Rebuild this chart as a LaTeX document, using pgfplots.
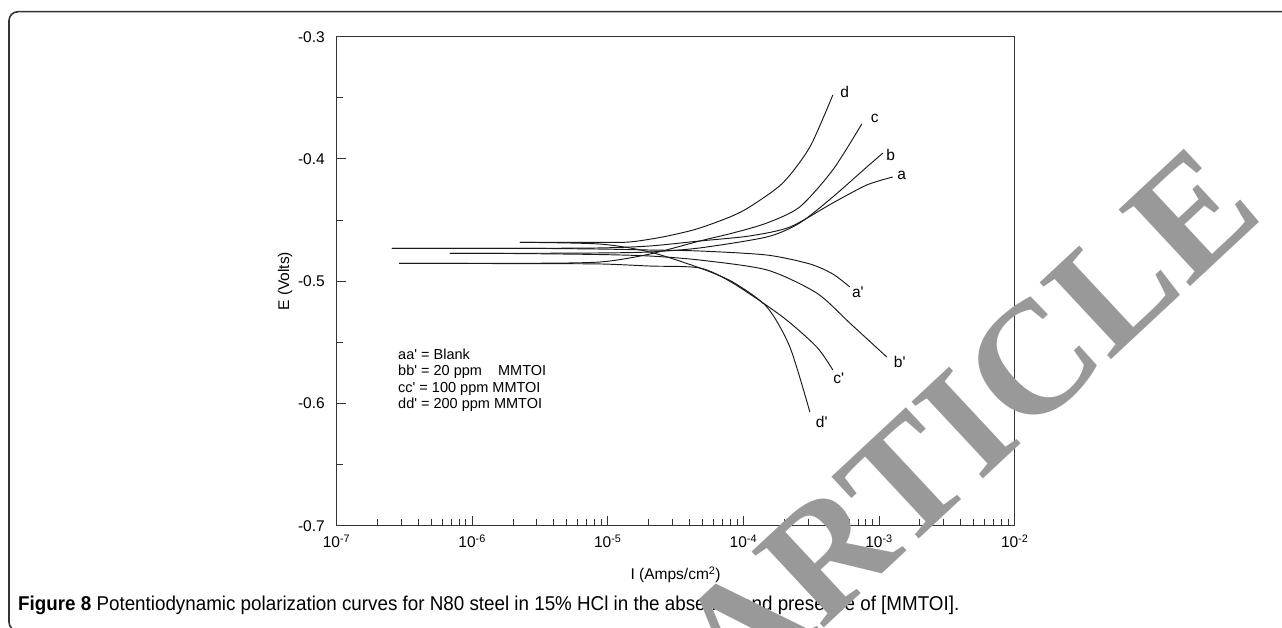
\documentclass[border=0pt]{standalone}
\usepackage{fontspec}
\usepackage{pgfplots}
\pgfplotsset{compat=1.18}
\newfontfamily\lsans{Liberation Sans}
\newfontfamily\capfont{Liberation Sans}[FakeStretch=0.94]
\newfontfamily\wmfont{Liberation Serif}
\definecolor{curve}{gray}{0.1}
\definecolor{axcol}{gray}{0.2}
\definecolor{wm}{gray}{0.6}
\newcommand\tfont{\lsans\fontsize{15.5}{17}\selectfont}
\pgfplotsset{crv/.style={color=curve, line width=0.95pt, smooth, tension=0.45, no markers, solid}}
\begin{document}
\begin{tikzpicture}[x=1pt,y=1pt]
\useasboundingbox (0,0) rectangle (1282,628);
\draw[line width=1.6pt, color=axcol, rounded corners=9pt] (9,-3) rectangle (1300,616.3);
\begin{axis}[
  at={(336.5pt,102.3pt)}, anchor=south west,
  scale only axis, width=678.2pt, height=489pt,
  xmode=log, xmin=1e-7, xmax=1e-2, ymin=-0.7, ymax=-0.3,
  axis line style={line width=1.1pt, color=axcol},
  tick align=inside, xtick pos=bottom, ytick pos=left,
  xtick={1e-7,1e-6,1e-5,1e-4,1e-3,1e-2},
  xticklabels={10\textsuperscript{-7},10\textsuperscript{-6},10\textsuperscript{-5},10\textsuperscript{-4},10\textsuperscript{-3},10\textsuperscript{-2}},
  minor xtick={2e-7,3e-7,4e-7,5e-7,6e-7,7e-7,8e-7,9e-7,
               2e-6,3e-6,4e-6,5e-6,6e-6,7e-6,8e-6,9e-6,
               2e-5,3e-5,4e-5,5e-5,6e-5,7e-5,8e-5,9e-5,
               2e-4,3e-4,4e-4,5e-4,6e-4,7e-4,8e-4,9e-4,
               2e-3,3e-3,4e-3,5e-3,6e-3,7e-3,8e-3,9e-3},
  ytick={-0.7,-0.6,-0.5,-0.4,-0.3},
  yticklabels={-0.7,-0.6,-0.5,-0.4,-0.3},
  minor ytick={-0.65,-0.55,-0.45,-0.35},
  major tick length=10pt, minor tick length=6.5pt,
  tick style={line width=0.9pt, color=axcol},
  tick label style={font=\tfont, inner sep=0pt},
  yticklabel style={xshift=-11.5pt},
  xticklabel style={yshift=-9pt},
  xlabel={I (Amps/cm\textsuperscript{2})}, ylabel={E (Volts)},
  label style={font=\tfont},
  xlabel style={at={(axis description cs:0.5,-0.1008)}, anchor=center},
  ylabel style={at={(axis description cs:-0.0759,0.5)}, anchor=center},
]
% a (anodic) and a' (cathodic): blank
\addplot[crv] coordinates {(2.56e-7,-0.4731) (2.25e-6,-0.4731) (8.75e-6,-0.4728) (2.04e-5,-0.4712) (4.77e-5,-0.4671) (1.11e-4,-0.4630) (2.20e-4,-0.4557) (4.56e-4,-0.4360) (8.12e-4,-0.4213) (1.26e-3,-0.4148)};
\addplot[crv] coordinates {(2.56e-7,-0.4731) (2.25e-6,-0.4731) (8.75e-6,-0.4737) (2.04e-5,-0.4745) (4.77e-5,-0.4753) (1.49e-4,-0.4786) (3.09e-4,-0.4859) (4.56e-4,-0.4941) (6.08e-4,-0.5047)};
% b, b': 20 ppm
\addplot[crv] coordinates {(6.86e-7,-0.4772) (2.25e-6,-0.4772) (8.75e-6,-0.4769) (2.04e-5,-0.4761) (4.77e-5,-0.4728) (1.49e-4,-0.4638) (2.60e-4,-0.4524) (4.56e-4,-0.4311) (8.12e-4,-0.4066) (1.07e-3,-0.3951)};
\addplot[crv] coordinates {(6.86e-7,-0.4772) (2.25e-6,-0.4774) (8.75e-6,-0.4782) (2.04e-5,-0.4794) (4.77e-5,-0.4827) (1.49e-4,-0.4908) (3.47e-4,-0.5097) (6.08e-4,-0.5342) (1.14e-3,-0.5620)};
% c, c': 100 ppm
\addplot[crv] coordinates {(2.89e-7,-0.4854) (2.25e-6,-0.4854) (8.75e-6,-0.4843) (2.04e-5,-0.4778) (4.77e-5,-0.4671) (8.35e-5,-0.4606) (1.49e-4,-0.4524) (2.60e-4,-0.4393) (4.56e-4,-0.4090) (7.46e-4,-0.3714)};
\addplot[crv] coordinates {(2.89e-7,-0.4854) (2.25e-6,-0.4856) (8.75e-6,-0.4859) (2.04e-5,-0.4876) (4.77e-5,-0.4892) (8.35e-5,-0.5015) (1.95e-4,-0.5293) (3.47e-4,-0.5538) (4.56e-4,-0.5726)};
% d, d': 200 ppm
\addplot[crv] coordinates {(2.25e-6,-0.4682) (8.75e-6,-0.4683) (1.46e-5,-0.4679) (2.55e-5,-0.4638) (4.53e-5,-0.4573) (7.94e-5,-0.4475) (1.11e-4,-0.4393) (1.95e-4,-0.4197) (3.09e-4,-0.3902) (4.56e-4,-0.3477)};
\addplot[crv] coordinates {(2.25e-6,-0.4682) (8.75e-6,-0.4696) (2.04e-5,-0.4761) (4.77e-5,-0.4892) (8.35e-5,-0.5007) (1.49e-4,-0.5211) (2.20e-4,-0.5538) (3.09e-4,-0.6070)};
% curve labels
\begin{scope}[every node/.style={font=\tfont, inner sep=0pt}]
\node at (axis cs:5.59e-4,-0.3452) {d};
\node at (axis cs:9.30e-4,-0.3665) {c};
\node at (axis cs:1.22e-3,-0.3968) {b};
\node at (axis cs:1.47e-3,-0.4131) {a};
\node at (axis cs:6.97e-4,-0.5088) {a'};
\node at (axis cs:1.42e-3,-0.5661) {b'};
\node at (axis cs:5.05e-4,-0.5792) {c'};
\node at (axis cs:3.78e-4,-0.6152) {d'};
\end{scope}
\end{axis}
% legend text
\node[anchor=north west, align=left, inner sep=0pt, font=\lsans\fontsize{14.5}{16.2}\selectfont] at (398,628-349)
 {aa' = Blank\\ bb' = 20 ppm\phantom{0}\ \ MMTOI\\ cc' = 100 ppm MMTOI\\ dd' = 200 ppm MMTOI};
% caption
\node[anchor=base west, inner sep=0pt, font=\capfont\fontsize{20}{22}\selectfont] at (18,628-611)
 {\textbf{Figure 8} Potentiodynamic polarization curves for N80 steel in 15\% HCl in the absence and presence of [MMTOI].};
% watermark
\node[rotate=43, color=wm, font=\wmfont\bfseries\fontsize{160}{160}\selectfont, inner sep=0pt] at (966,628-424) {ARTICLE};
\end{tikzpicture}
\end{document}
